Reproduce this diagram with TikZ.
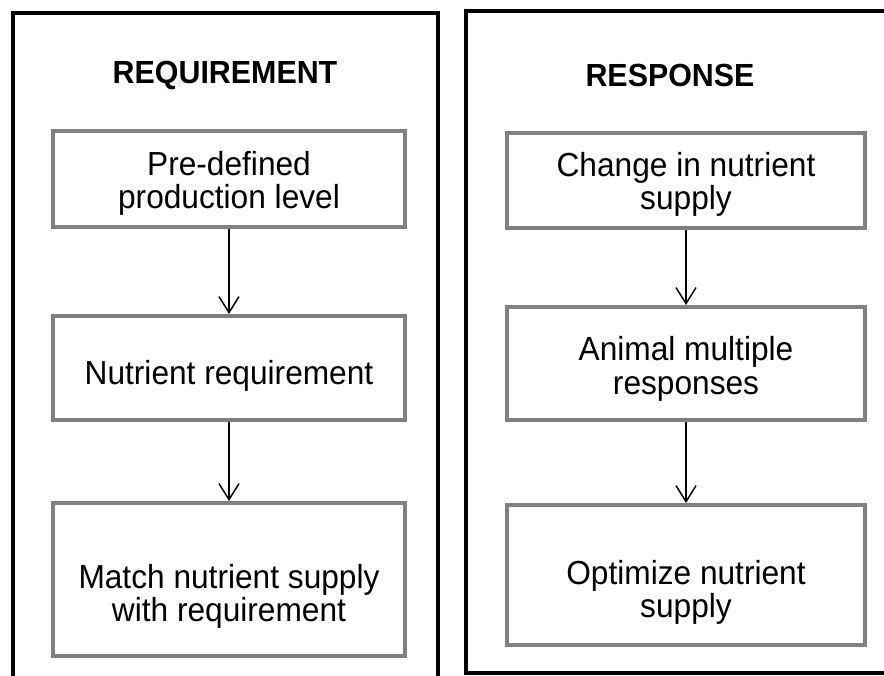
\documentclass[tikz,border=0pt]{standalone}
\usepackage{fontspec}
\setmainfont{Liberation Sans}[FakeStretch=0.95]
\usetikzlibrary{arrows.meta}

\begin{document}
\begin{tikzpicture}[x=0.75pt,y=-0.75pt,->,>={Straight Barb[length=12pt,width=15pt]},
                    line width=1.1pt]
  \tikzstyle{panel}=[-,draw=black,line width=3pt]
  \tikzstyle{heading}=[font=\bfseries\fontsize{24}{28}\selectfont]
  \tikzstyle{stage}=[rectangle,draw=gray,line width=3pt,fill=white]
  \tikzstyle{stagetext}=[align=center,font=\fontsize{25}{25}\selectfont]

  \useasboundingbox (0,0) rectangle (884,675);

  % the two frames
  \draw[panel] (12.5,690) -- (12.5,13) -- (437.5,13) -- (437.5,690);
  \draw[panel] (900,10.5) -- (466,10.5) -- (466,673) -- (900,673);

  \node[heading] (reqtitle) at (225,75) {REQUIREMENT};
  \node[heading] (restitle) at (670,75) {RESPONSE};

  \node[stage, minimum width=263.6pt, minimum height=72.4pt,
        label={[stagetext,yshift=-3.5pt]center:{Pre-defined\\production level}}] (level) at (229,179) {};
  \node[stage, minimum width=263.6pt, minimum height=78pt,
        label={[stagetext,yshift=-6pt]center:{Nutrient requirement}}] (need) at (229,368) {};
  \node[stage, minimum width=263.6pt, minimum height=114.8pt,
        label={[stagetext,yshift=-12.5pt]center:{Match nutrient supply\\with requirement}}] (match) at (229,579.5) {};

  \node[stage, minimum width=268.1pt, minimum height=71.3pt,
        label={[stagetext,yshift=-3pt]center:{Change in nutrient\\supply}}] (change) at (686,180.5) {};
  \node[stage, minimum width=268.1pt, minimum height=84.8pt,
        label={[stagetext,yshift=-4pt]center:{Animal multiple\\responses}}] (animal) at (686,363.5) {};
  \node[stage, minimum width=268.1pt, minimum height=105pt,
        label={[stagetext,yshift=-13pt]center:{Optimize nutrient\\supply}}] (optim) at (686,575) {};

  \path (level)  edge (need)
        (need)   edge (match)
        (change) edge (animal)
        (animal) edge (optim);
\end{tikzpicture}
\end{document}
